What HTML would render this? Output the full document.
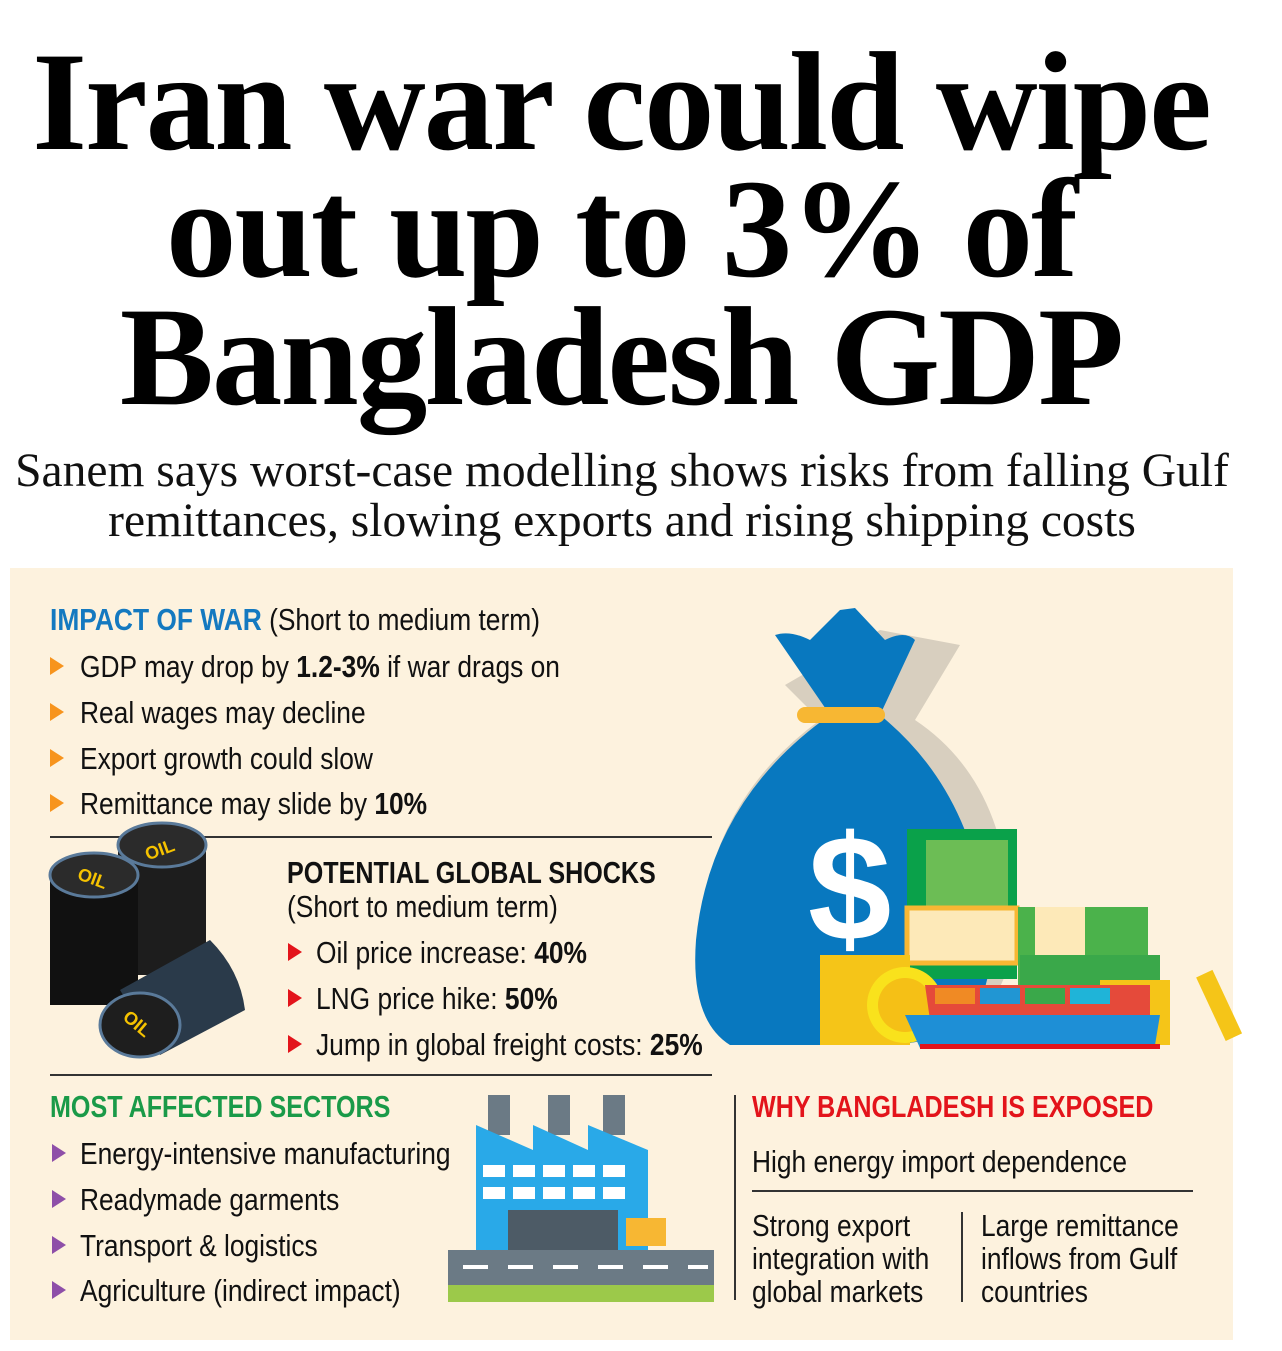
<!DOCTYPE html>
<html><head><meta charset="utf-8"><style>
*{margin:0;padding:0}
body{width:1282px;height:1351px;background:#fff;position:relative;overflow:hidden;font-family:"Liberation Sans",sans-serif}
.t{position:absolute;left:-20px;width:1282px;text-align:center;font-family:"Liberation Serif",serif;font-weight:bold;font-size:141px;line-height:1;white-space:nowrap;letter-spacing:-2px;color:#000}
.s{position:absolute;left:-19px;width:1282px;text-align:center;font-family:"Liberation Serif",serif;font-size:47.5px;line-height:1;white-space:nowrap;color:#111}
.box{position:absolute;left:10px;top:568px;width:1223px;height:772px;background:#fdf2de}
.x{position:absolute;white-space:nowrap;font-size:31px;line-height:1;color:#111;transform:scaleX(0.85);transform-origin:0 0}
.h{font-weight:bold;transform:scaleX(0.81)}
.tri{position:absolute;width:0;height:0;border-top:9px solid transparent;border-bottom:9px solid transparent;border-left:14px solid #f7941d}
.hl{position:absolute;height:2px;background:#333}
.vl{position:absolute;width:2px;background:#333}
</style></head><body>
<div class="t" style="top:32px">Iran war could wipe</div>
<div class="t" style="top:159px">out up to 3% of</div>
<div class="t" style="top:287px">Bangladesh GDP</div>
<div class="s" style="top:448px">Sanem says worst-case modelling shows risks from falling Gulf</div>
<div class="s" style="top:498px">remittances, slowing exports and rising shipping costs</div>
<div class="box"></div>

<div class="x" style="left:50px;top:604px"><b style="color:#1479c0">IMPACT OF WAR</b> (Short to medium term)</div>
<div class="tri" style="left:50px;top:657px"></div><div class="x" style="left:80px;top:651px">GDP may drop by <b>1.2-3%</b> if war drags on</div>
<div class="tri" style="left:50px;top:703px"></div><div class="x" style="left:80px;top:697px">Real wages may decline</div>
<div class="tri" style="left:50px;top:749px"></div><div class="x" style="left:80px;top:743px">Export growth could slow</div>
<div class="tri" style="left:50px;top:794px"></div><div class="x" style="left:80px;top:788px">Remittance may slide by <b>10%</b></div>
<div class="hl" style="left:50px;top:836px;width:662px"></div>

<div class="x h" style="left:287px;top:857px">POTENTIAL GLOBAL SHOCKS</div>
<div class="x" style="left:287px;top:891px">(Short to medium term)</div>
<div class="tri" style="left:288px;top:943px;border-left-color:#e3141b"></div><div class="x" style="left:316px;top:937px">Oil price increase: <b>40%</b></div>
<div class="tri" style="left:288px;top:989px;border-left-color:#e3141b"></div><div class="x" style="left:316px;top:983px">LNG price hike: <b>50%</b></div>
<div class="tri" style="left:288px;top:1035px;border-left-color:#e3141b"></div><div class="x" style="left:316px;top:1029px">Jump in global freight costs: <b>25%</b></div>
<div class="hl" style="left:50px;top:1074px;width:662px"></div>

<div class="x h" style="left:50px;top:1091px;color:#1a9a48">MOST AFFECTED SECTORS</div>
<div class="tri" style="left:52px;top:1144px;border-left-color:#8e4fa8"></div><div class="x" style="left:80px;top:1138px">Energy-intensive manufacturing</div>
<div class="tri" style="left:52px;top:1190px;border-left-color:#8e4fa8"></div><div class="x" style="left:80px;top:1184px">Readymade garments</div>
<div class="tri" style="left:52px;top:1236px;border-left-color:#8e4fa8"></div><div class="x" style="left:80px;top:1230px">Transport &amp; logistics</div>
<div class="tri" style="left:52px;top:1281px;border-left-color:#8e4fa8"></div><div class="x" style="left:80px;top:1275px">Agriculture (indirect impact)</div>

<div class="vl" style="left:734px;top:1095px;height:205px"></div>
<div class="x h" style="left:752px;top:1091px;color:#e3141b">WHY BANGLADESH IS EXPOSED</div>
<div class="x" style="left:752px;top:1146px">High energy import dependence</div>
<div class="hl" style="left:752px;top:1190px;width:441px"></div>
<div class="x" style="left:752px;top:1209px;line-height:33px">Strong export<br>integration with<br>global markets</div>
<div class="vl" style="left:961px;top:1212px;height:90px"></div>
<div class="x" style="left:981px;top:1209px;line-height:33px">Large remittance<br>inflows from Gulf<br>countries</div>

<svg style="position:absolute;left:40px;top:820px" width="220" height="250">
<rect x="78" y="25" width="88" height="130" fill="#1d1d1d"/>
<ellipse cx="122" cy="25" rx="44" ry="22" fill="#2b2b2b" stroke="#5a7a9a" stroke-width="3"/>
<text x="105" y="35" font-family="Liberation Sans" font-weight="bold" font-size="18" fill="#f5c200" transform="rotate(-20 122 30)">OIL</text>
<rect x="10" y="55" width="88" height="130" fill="#111"/>
<ellipse cx="54" cy="55" rx="44" ry="22" fill="#2b2b2b" stroke="#5a7a9a" stroke-width="3"/>
<text x="37" y="65" font-family="Liberation Sans" font-weight="bold" font-size="18" fill="#f5c200" transform="rotate(20 54 60)">OIL</text>
<path d="M80 170 L170 120 Q200 150 205 190 L120 235 Z" fill="#2a3a4a"/>
<ellipse cx="100" cy="205" rx="40" ry="32" fill="#1e1e1e" stroke="#5a7a9a" stroke-width="3"/>
<text x="82" y="212" font-family="Liberation Sans" font-weight="bold" font-size="18" fill="#f5c200" transform="rotate(40 100 205)">OIL</text>
</svg>

<svg style="position:absolute;left:690px;top:600px" width="580" height="470">
<path d="M95 85 L190 30 L270 45 L225 120 Q330 190 320 360 Q300 440 200 445 L40 445 Q0 420 8 340 Q20 200 130 120 Z" fill="#d8cfbf"/>
<path d="M85 35 Q100 30 120 40 L150 10 L165 8 L195 40 Q215 30 225 40 L190 115 Q295 200 300 360 Q295 440 200 445 L40 445 Q0 420 6 340 Q20 200 140 115 Z" fill="#0878bf"/>
<rect x="107" y="107" width="88" height="16" rx="8" fill="#f7b733"/>
<text x="118" y="340" font-family="Liberation Sans" font-weight="bold" font-size="150" fill="#fff">$</text>
<rect x="217" y="229" width="110" height="150" fill="#0aa14a"/>
<rect x="236" y="240" width="82" height="70" fill="#6cbd55"/>
<rect x="217" y="308" width="110" height="55" fill="#fde9b8" stroke="#f7b733" stroke-width="5"/>
<rect x="328" y="307" width="130" height="80" fill="#4bb24b"/>
<rect x="345" y="307" width="50" height="80" fill="#fde9b8"/>
<rect x="330" y="355" width="140" height="60" fill="#3aa84a"/>
<rect x="130" y="355" width="90" height="90" fill="#f5c518"/>
<rect x="410" y="380" width="70" height="65" fill="#f5c518"/>
<circle cx="215" cy="405" r="38" fill="#f9e21c"/><circle cx="215" cy="405" r="27" fill="#f5c016"/>
<path d="M235 385 L460 385 L460 420 L240 420 Z" fill="#e54a3a"/>
<rect x="245" y="388" width="40" height="16" fill="#f08a24"/><rect x="290" y="388" width="40" height="16" fill="#2196d3"/><rect x="335" y="388" width="40" height="16" fill="#3aa84a"/><rect x="380" y="388" width="40" height="16" fill="#1fb4d8"/>
<path d="M215 415 L470 415 L465 445 L230 448 Z" fill="#1e8fd6"/>
<rect x="230" y="444" width="240" height="5" fill="#e3141b"/>
<rect x="520" y="370" width="18" height="70" fill="#f5c518" transform="rotate(-25 530 405)"/>
</svg>

<svg style="position:absolute;left:448px;top:1090px" width="266" height="212">
<rect x="40" y="5" width="22" height="40" fill="#6b7a85"/><rect x="100" y="5" width="22" height="40" fill="#6b7a85"/><rect x="155" y="5" width="22" height="40" fill="#6b7a85"/>
<path d="M28 35 L85 60 L85 35 L140 60 L140 35 L200 60 L200 165 L28 165 Z" fill="#29a9e8"/>
<g fill="#fff"><rect x="35" y="75" width="22" height="12"/><rect x="65" y="75" width="22" height="12"/><rect x="95" y="75" width="22" height="12"/><rect x="125" y="75" width="22" height="12"/><rect x="155" y="75" width="22" height="12"/>
<rect x="35" y="97" width="22" height="12"/><rect x="65" y="97" width="22" height="12"/><rect x="95" y="97" width="22" height="12"/><rect x="125" y="97" width="22" height="12"/><rect x="155" y="97" width="22" height="12"/></g>
<rect x="60" y="120" width="110" height="45" fill="#4d5b66"/>
<rect x="178" y="128" width="40" height="28" fill="#f7b733"/>
<rect x="0" y="160" width="266" height="35" fill="#6b7a85"/>
<g fill="#fff"><rect x="15" y="175" width="25" height="4"/><rect x="60" y="175" width="25" height="4"/><rect x="105" y="175" width="25" height="4"/><rect x="150" y="175" width="25" height="4"/><rect x="195" y="175" width="25" height="4"/><rect x="240" y="175" width="20" height="4"/></g>
<rect x="0" y="195" width="266" height="17" fill="#9cc94a"/>
</svg>
</body></html>
